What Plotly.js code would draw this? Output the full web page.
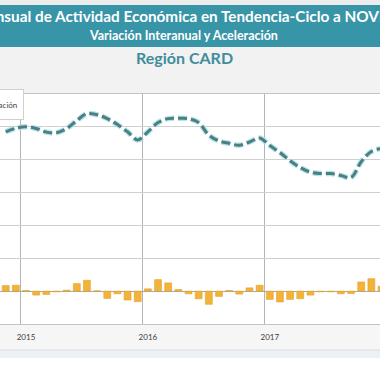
<!DOCTYPE html>
<html>
<head>
<meta charset="utf-8">
<script src="https://cdn.plot.ly/plotly-3.0.1.min.js"></script>
<style>html,body{margin:0;padding:0;background:#fff;}#chart{width:380px;height:380px;}</style>
</head>
<body>
<div id="chart"></div>
<script>
const months = ['2014-11','2014-12',
  '2015-01','2015-02','2015-03','2015-04','2015-05','2015-06','2015-07','2015-08','2015-09','2015-10','2015-11','2015-12',
  '2016-01','2016-02','2016-03','2016-04','2016-05','2016-06','2016-07','2016-08','2016-09','2016-10','2016-11','2016-12',
  '2017-01','2017-02','2017-03','2017-04','2017-05','2017-06','2017-07','2017-08','2017-09','2017-10','2017-11','2017-12'];
const variacionInteranual = [4.85, 4.96,
  5.00, 4.95, 4.84, 4.82, 4.95, 5.19, 5.40, 5.37, 5.25, 5.07, 4.85, 4.60,
  4.85, 5.13, 5.25, 5.26, 5.25, 5.13, 4.75, 4.57, 4.50, 4.44, 4.54, 4.66,
  4.43, 4.22, 3.97, 3.76, 3.62, 3.58, 3.58, 3.52, 3.46, 3.94, 4.25, 4.34];
const aceleracion = [0.17, 0.18,
  0.02, -0.12, -0.10, -0.02, 0.03, 0.23, 0.33, 0.01, -0.22, -0.08, -0.27, -0.32,
  0.07, 0.35, 0.25, 0.05, -0.08, -0.23, -0.40, -0.16, 0.02, -0.09, 0.10, 0.18,
  -0.25, -0.33, -0.25, -0.23, -0.12, -0.02, -0.02, -0.08, -0.07, 0.28, 0.38, 0.15];
const seriesNames = ['Variación Interanual', 'Aceleración'];
const titleText = 'Indicador Mensual de Actividad Económica en Tendencia-Ciclo a NOVIEMBRE 2017';
const subtitleText = 'Variación Interanual y Aceleración';
const regionText = 'Región CARD';

const xIdx = months.map((m, i) => i);
const janIdx = xIdx.filter(i => months[i].endsWith('-01'));
const janYears = janIdx.map(i => months[i].slice(0, 4));

const H = 380, T = 94, B = 56;
const plotH = H - T - B;
const py = p => (H - B - p) / plotH; // pixel row -> paper y

const traces = [
  {type: 'bar', x: xIdx, y: aceleracion, name: seriesNames[1], width: 0.68,
   marker: {color: '#f3b33b', line: {color: '#e3a126', width: 0.6}}},
  {type: 'scatter', mode: 'lines', x: xIdx, y: variacionInteranual, showlegend: false, hoverinfo: 'skip',
   line: {color: 'rgba(170,225,235,0.9)', width: 5.5, dash: '9px,4px', shape: 'spline', smoothing: 1}},
  {type: 'scatter', mode: 'lines', x: xIdx, y: variacionInteranual, name: seriesNames[0],
   line: {color: '#4d7f80', width: 3, dash: '9px,4px', shape: 'spline', smoothing: 1}}
];

const layout = {
  width: 380, height: 380,
  margin: {l: 0, r: 0, t: T, b: B, autoexpand: false},
  paper_bgcolor: '#ffffff', plot_bgcolor: '#ffffff',
  showlegend: true,
  legend: {orientation: 'h', x: 0.062, xanchor: 'right', y: 1.02, yanchor: 'top',
           bgcolor: '#ffffff', bordercolor: '#d0d0d0', borderwidth: 1,
           font: {family: 'Lato, sans-serif', size: 8, color: '#404040'},
           traceorder: 'reversed'},
  bargap: 0.3,
  xaxis: {range: [-0.56, 36.85], tickmode: 'array', tickvals: janIdx, ticktext: janYears,
          showgrid: false, zeroline: false, ticks: '', ticklabelstandoff: 5,
          tickfont: {family: 'Lato, sans-serif', size: 8, color: '#404040'},
          showline: true, mirror: true, linecolor: '#c4c4c4', linewidth: 1,
          minor: {tickmode: 'array', tickvals: janIdx.map(i => i - 0.5), showgrid: true,
                  gridcolor: '#b4b4b4', gridwidth: 1, ticks: ''}},
  yaxis: {range: [-1, 6], dtick: 1, showticklabels: false, ticks: '',
          gridcolor: '#cfcfcf', gridwidth: 1, zeroline: true, zerolinecolor: '#a8a8a8', zerolinewidth: 1,
          showline: false},
  shapes: [
    {type: 'rect', xref: 'paper', yref: 'paper', x0: 0, x1: 1, y0: py(5), y1: py(0), fillcolor: '#ececec', line: {width: 0}, layer: 'below'},
    {type: 'rect', xref: 'paper', yref: 'paper', x0: 0, x1: 1, y0: py(47), y1: py(5), fillcolor: '#3895a8', line: {width: 0}, layer: 'below'},
    {type: 'rect', xref: 'paper', yref: 'paper', x0: 0, x1: 1, y0: py(94), y1: py(47), fillcolor: '#f2f2f2', line: {width: 0}, layer: 'below'},
    {type: 'rect', xref: 'paper', yref: 'paper', x0: 0, x1: 1, y0: py(350), y1: py(324), fillcolor: '#f6f6f6', line: {width: 0}, layer: 'below'},
    {type: 'rect', xref: 'paper', yref: 'paper', x0: 0, x1: 1, y0: py(358), y1: py(350), fillcolor: '#edf1f5', line: {width: 0}, layer: 'below'},
    {type: 'line', xref: 'paper', yref: 'paper', x0: 0, x1: 1, y0: py(350), y1: py(350), line: {color: '#d8dde2', width: 1}}
  ],
  annotations: [
    {text: titleText, xref: 'paper', yref: 'paper', x: 0.5, y: py(16), xanchor: 'center', yanchor: 'middle',
     showarrow: false, font: {family: 'Lato, sans-serif', size: 15.3, color: '#ffffff', weight: 'bold'}},
    {text: subtitleText, xref: 'paper', yref: 'paper', x: 183 / 380, y: py(36), xanchor: 'center', yanchor: 'middle',
     showarrow: false, font: {family: 'Lato, sans-serif', size: 12.5, color: '#ffffff', weight: 'bold'}},
    {text: regionText, xref: 'paper', yref: 'paper', x: 184 / 380, y: py(57), xanchor: 'center', yanchor: 'middle',
     showarrow: false, font: {family: 'Lato, sans-serif', size: 16, color: '#3f8d9c', weight: 'bold'}}
  ]
};

Plotly.newPlot('chart', traces, layout, {displayModeBar: false, staticPlot: true});
</script>
</body>
</html>
